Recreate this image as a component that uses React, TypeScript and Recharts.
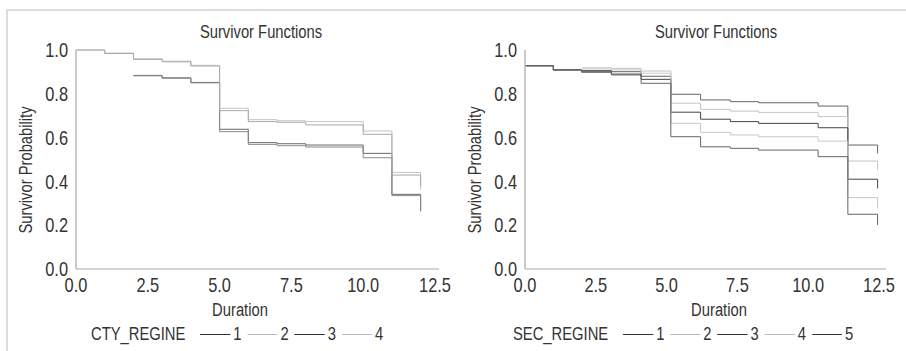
import { LineChart, Line, XAxis, YAxis } from 'recharts'

// Arial-metric font squeezed horizontally to mimic a narrow face
const FONT = "'Liberation Sans', Arial, sans-serif"
const SQUEEZE = 0.82

// Duration at each step of the survivor curves
const ctyDurations = [0, 1, 2, 3, 4, 5, 6, 7, 8, 10, 11, 12]
const cty1 = [null, null, 0.884, 0.873, 0.852, 0.638, 0.577, 0.572, 0.566, 0.528, 0.341, 0.263]
const cty2 = [1.0, 0.986, 0.96, 0.949, 0.93, 0.734, 0.682, 0.677, 0.673, 0.63, 0.441, 0.361]
const cty3 = [null, null, 0.882, 0.871, 0.85, 0.627, 0.569, 0.563, 0.557, 0.508, 0.335, 0.27]
const cty4 = [1.0, 0.984, 0.957, 0.946, 0.927, 0.723, 0.673, 0.67, 0.658, 0.615, 0.429, 0.38]

const secDurations = [0, 1, 2, 3.05, 4.1, 5.15, 6.2, 7.25, 8.25, 10.35, 11.4, 12.45]
const sec1 = [0.928, 0.909, 0.906, 0.901, 0.88, 0.798, 0.772, 0.764, 0.759, 0.744, 0.566, 0.528]
const sec2 = [null, null, 0.919, 0.916, 0.904, 0.757, 0.729, 0.721, 0.715, 0.696, 0.493, 0.452]
const sec3 = [0.928, 0.909, 0.903, 0.89, 0.866, 0.716, 0.684, 0.673, 0.665, 0.645, 0.41, 0.368]
const sec4 = [null, null, 0.913, 0.909, 0.894, 0.665, 0.624, 0.612, 0.604, 0.584, 0.326, 0.277]
const sec5 = [0.928, 0.909, 0.898, 0.886, 0.848, 0.604, 0.558, 0.551, 0.543, 0.513, 0.25, 0.201]

const xTicks = [0, 2.5, 5, 7.5, 10, 12.5]
const yTicks = [0, 0.2, 0.4, 0.6, 0.8, 1.0]

type Series = { key: string; name: string; values: (number | null)[]; color: string; legendColor: string }

const ctySeries: Series[] = [
  { key: 's1', name: '1', values: cty1, color: '#6a6a6a', legendColor: '#333' },
  { key: 's2', name: '2', values: cty2, color: '#c4c4c4', legendColor: '#bbb' },
  { key: 's3', name: '3', values: cty3, color: '#8a8a8a', legendColor: '#333' },
  { key: 's4', name: '4', values: cty4, color: '#a8a8a8', legendColor: '#bbb' },
]

const secSeries: Series[] = [
  { key: 's1', name: '1', values: sec1, color: '#666', legendColor: '#333' },
  { key: 's2', name: '2', values: sec2, color: '#c4c4c4', legendColor: '#bbb' },
  { key: 's3', name: '3', values: sec3, color: '#444', legendColor: '#333' },
  { key: 's4', name: '4', values: sec4, color: '#c8c8c8', legendColor: '#bbb' },
  { key: 's5', name: '5', values: sec5, color: '#666', legendColor: '#333' },
]

const buildRows = (times: number[], series: Series[]) =>
  times.map((t, i) => {
    const row: Record<string, number | null> = { t }
    series.forEach(s => { row[s.key] = s.values[i] })
    return row
  })

const XTick = (props: any) => {
  const { x, y, payload } = props
  return (
    <g transform={`translate(${x},${y})`}>
      <text textAnchor="middle" dy="0.71em" transform={`scale(${SQUEEZE},1)`} fontSize={20} fill="#333" fontFamily={FONT}>
        {Number(payload.value).toFixed(1)}
      </text>
    </g>
  )
}

const YTick = (props: any) => {
  const { x, y, payload } = props
  return (
    <g transform={`translate(${x},${y})`}>
      <text textAnchor="end" dy="0.355em" transform={`scale(${SQUEEZE},1)`} fontSize={20} fill="#333" fontFamily={FONT}>
        {Number(payload.value).toFixed(1)}
      </text>
    </g>
  )
}

interface PanelProps {
  left: number
  times: number[]
  series: Series[]
  factor: string
  yAxisWidth: number
  marginRight: number
  padRight: number
  titleX: number
  yLabelX: number
  durationX: number
  legendX: number
}

function Panel(p: PanelProps) {
  const data = buildRows(p.times, p.series)
  const text = { position: 'absolute' as const, fontFamily: FONT, color: '#333', whiteSpace: 'nowrap' as const, lineHeight: 1, fontSize: 18 }
  const k = 1 / SQUEEZE
  return (
    <>
      <div style={{ position: 'absolute', left: p.left, top: 0 }}>
        <LineChart width={453} height={351} data={data} margin={{ top: 50, right: p.marginRight, bottom: 52, left: 0 }}>
          <XAxis
            dataKey="t"
            type="number"
            domain={[0, 12.5]}
            ticks={xTicks}
            height={30}
            padding={{ left: 0, right: p.padRight }}
            tickLine={false}
            tickMargin={3}
            axisLine={{ stroke: '#a8a8a8' }}
            tick={<XTick />}
            allowDataOverflow
          />
          <YAxis
            type="number"
            domain={[0, 1]}
            ticks={yTicks}
            width={p.yAxisWidth}
            tickLine={false}
            axisLine={{ stroke: '#b8b8b8', strokeWidth: 1.5 }}
            tick={<YTick />}
          />
          {p.series.map(s => (
            <Line
              key={s.key}
              dataKey={s.key}
              type="stepAfter"
              stroke={s.color}
              strokeWidth={1}
              dot={false}
              activeDot={false}
              isAnimationActive={false}
            />
          ))}
        </LineChart>
      </div>
      <div style={{ ...text, left: p.titleX, top: 32, transform: `translate(-50%, -50%) scaleX(${SQUEEZE})` }}>Survivor Functions</div>
      <div style={{ ...text, left: p.yLabelX, top: 170, transform: `translate(-50%, -50%) rotate(-90deg) scaleX(${SQUEEZE})` }}>Survivor Probability</div>
      <div style={{ ...text, left: p.durationX, top: 310, transform: `translate(-50%, -50%) scaleX(${SQUEEZE})` }}>Duration</div>
      <div style={{ ...text, left: p.legendX, top: 334, transformOrigin: 'left center', transform: `translateY(-50%) scaleX(${SQUEEZE})`, display: 'flex', alignItems: 'center' }}>
        <span style={{ marginRight: 15 * k }}>{p.factor}</span>
        {p.series.map(s => (
          <span key={s.key} style={{ display: 'flex', alignItems: 'center', marginRight: 6 * k }}>
            <span style={{ width: 30 * k, height: 0, borderTop: `1px solid ${s.legendColor}`, marginRight: 3 * k }} />
            <span>{s.name}</span>
          </span>
        ))}
      </div>
    </>
  )
}

export default function App() {
  return (
    <div style={{ position: 'absolute', left: 0, top: 0, width: 906, height: 351, background: '#fff', overflow: 'hidden' }}>
      <div style={{ position: 'absolute', left: 6, top: 9, width: 910, height: 350, borderTop: '2px solid #dcdcdc', borderLeft: '2px solid #dcdcdc' }} />
      <Panel
        left={0}
        times={ctyDurations}
        series={ctySeries}
        factor="CTY_REGINE"
        yAxisWidth={76}
        marginRight={14}
        padRight={4}
        titleX={261}
        yLabelX={26}
        durationX={240}
        legendX={91}
      />
      <Panel
        left={453}
        times={secDurations}
        series={secSeries}
        factor="SEC_REGINE"
        yAxisWidth={72}
        marginRight={20}
        padRight={7}
        titleX={716}
        yLabelX={475}
        durationX={719}
        legendX={513}
      />
    </div>
  )
}
